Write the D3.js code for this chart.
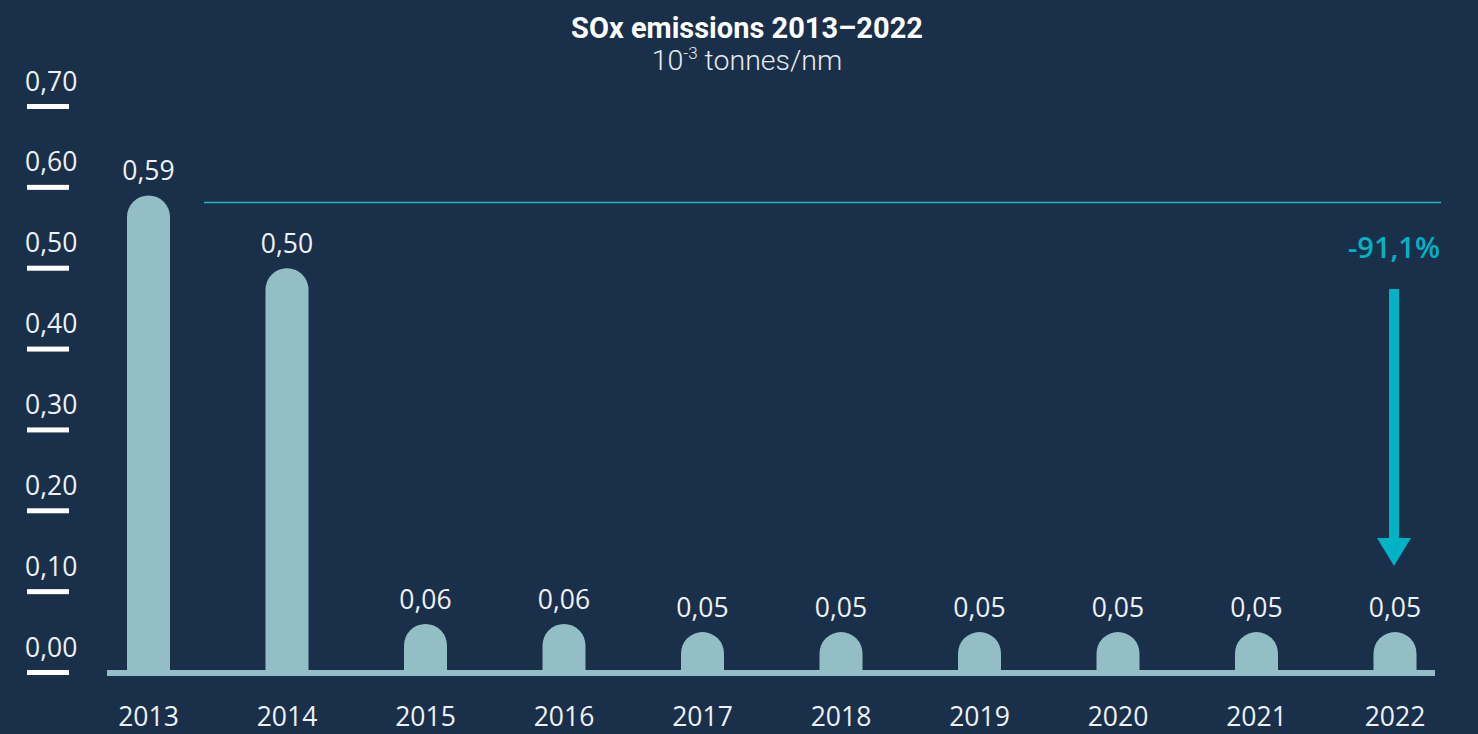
<!DOCTYPE html>
<html>
<head>
<meta charset="utf-8">
<script src="https://cdn.jsdelivr.net/npm/d3@7"></script>
<style>
  html, body { margin: 0; padding: 0; background: #1a2f4a; }
  svg { display: block; }
</style>
</head>
<body>
<svg id="chart" width="1478" height="734"></svg>
<script>
// SOx emissions per nautical mile, 2013–2022
const years = ["2013", "2014", "2015", "2016", "2017", "2018", "2019", "2020", "2021", "2022"];
const emissions = [0.59, 0.50, 0.06, 0.06, 0.05, 0.05, 0.05, 0.05, 0.05, 0.05];
const yTicks = [0, 0.1, 0.2, 0.3, 0.4, 0.5, 0.6, 0.7];
const changeLabel = "-91,1%";

const fmt = v => d3.format(".2f")(v).replace(".", ",");

const W = 1478, H = 734;
const svg = d3.select("#chart");

svg.append("rect").attr("width", W).attr("height", H).attr("fill", "#1a2f4a");

const x = d3.scalePoint().domain(years).range([148.5, 1395]);
const y = d3.scaleLinear().domain([0, 0.7]).range([672.5, 106.5]);
const barW = 43;
const baseTop = 670;

// Title
svg.append("text")
  .attr("x", 747).attr("y", 38)
  .attr("text-anchor", "middle")
  .attr("font-family", "Roboto, sans-serif")
  .attr("font-weight", 700)
  .attr("font-size", 29)
  .attr("fill", "#ffffff")
  .text("SOx emissions 2013–2022");

const sub = svg.append("text")
  .attr("x", 747).attr("y", 70)
  .attr("text-anchor", "middle")
  .attr("font-family", "Roboto, sans-serif")
  .attr("font-weight", 300)
  .attr("font-size", 28.5)
  .attr("fill", "#e6ebf0");
sub.append("tspan").text("10");
sub.append("tspan").attr("font-size", 17).attr("dy", -11).text("-3");
sub.append("tspan").attr("dy", 11).text(" tonnes/nm");

// Y axis: labels with a short bar under each
const yAxis = svg.append("g");
yAxis.selectAll("rect.tick")
  .data(yTicks)
  .join("rect")
  .attr("x", 27).attr("width", 42)
  .attr("y", d => y(d) - 2.5).attr("height", 5)
  .attr("fill", "#ffffff");
yAxis.selectAll("text")
  .data(yTicks)
  .join("text")
  .attr("x", 25)
  .attr("y", d => y(d) - 16)
  .attr("font-family", "'Open Sans', sans-serif")
  .attr("font-size", 26.5)
  .attr("fill", "#eef2f5")
  .text(d => fmt(d));

// Reference line at the 2013 level
svg.append("line")
  .attr("x1", 204).attr("x2", 1441)
  .attr("y1", y(emissions[0]) + 7).attr("y2", y(emissions[0]) + 7)
  .attr("stroke", "#2ab3c6").attr("stroke-width", 1.6);

// Bars with rounded tops
const barPath = (cx, top) => {
  const r = barW / 2;
  const l = cx - r, rr = cx + r;
  return `M${l},${baseTop} L${l},${top + r} A${r},${r} 0 0 1 ${rr},${top + r} L${rr},${baseTop} Z`;
};
svg.append("g").selectAll("path")
  .data(years)
  .join("path")
  .attr("d", (d, i) => barPath(x(d), y(emissions[i])))
  .attr("fill", "#93bec5");

// Baseline
svg.append("rect")
  .attr("x", 107).attr("width", 1328)
  .attr("y", baseTop).attr("height", 6)
  .attr("fill", "#93bec5");

// Value labels
svg.append("g").selectAll("text")
  .data(years)
  .join("text")
  .attr("x", d => x(d))
  .attr("y", (d, i) => y(emissions[i]) - 15)
  .attr("text-anchor", "middle")
  .attr("font-family", "'Open Sans', sans-serif")
  .attr("font-size", 26.5)
  .attr("fill", "#eef2f5")
  .text((d, i) => fmt(emissions[i]));

// Year labels
svg.append("g").selectAll("text")
  .data(years)
  .join("text")
  .attr("x", d => x(d))
  .attr("y", 726)
  .attr("text-anchor", "middle")
  .attr("font-family", "'Open Sans', sans-serif")
  .attr("font-size", 26.5)
  .attr("fill", "#eef2f5")
  .text(d => d);

// Change annotation
const ax = x(years[years.length - 1]) - 1;
svg.append("text")
  .attr("x", ax).attr("y", 258)
  .attr("text-anchor", "middle")
  .attr("font-family", "'Open Sans', sans-serif")
  .attr("font-weight", 600)
  .attr("font-size", 29)
  .attr("fill", "#00b3c4")
  .text(changeLabel);
svg.append("rect")
  .attr("x", ax - 5).attr("width", 10)
  .attr("y", 289).attr("height", 252)
  .attr("fill", "#00b3c4");
svg.append("path")
  .attr("d", `M${ax - 17},538 L${ax + 17},538 L${ax},566 Z`)
  .attr("fill", "#00b3c4");
</script>
</body>
</html>
